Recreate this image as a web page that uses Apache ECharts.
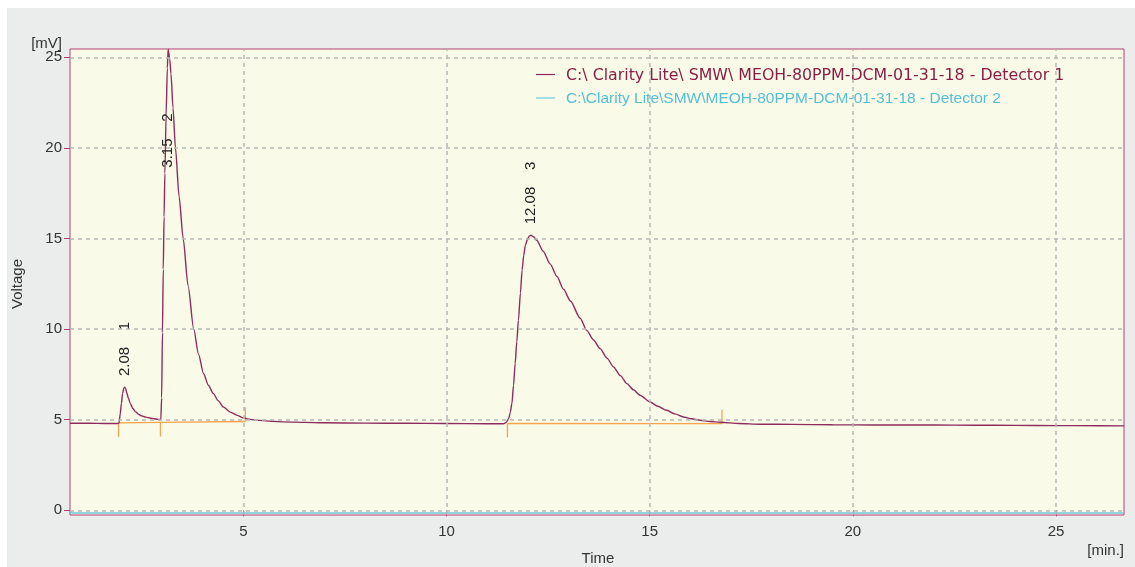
<!DOCTYPE html>
<html>
<head>
<meta charset="utf-8">
<script src="https://cdn.jsdelivr.net/npm/echarts@6/dist/echarts.min.js"></script>
<style>
  html, body { margin: 0; padding: 0; background: #ffffff; }
  #chart { width: 1135px; height: 567px; }
</style>
</head>
<body>
<div id="chart"></div>
<script>
// Detector 1 trace: [time (min), signal (mV)]
const det1Points = [
  [0.735, 4.80], [1.20, 4.80], [1.60, 4.79], [1.90, 4.79], [1.94, 4.80],
  [1.97, 5.30], [2.00, 5.90], [2.03, 6.45], [2.06, 6.75], [2.08, 6.80],
  [2.10, 6.75], [2.13, 6.50], [2.17, 6.20], [2.22, 5.90], [2.28, 5.62],
  [2.35, 5.43], [2.42, 5.30], [2.50, 5.21], [2.60, 5.14], [2.70, 5.09],
  [2.80, 5.05], [2.90, 5.02], [2.97, 5.00],
  [2.99, 6.20], [3.01, 9.80], [3.03, 13.30], [3.05, 16.20], [3.07, 18.60],
  [3.10, 21.80], [3.13, 24.40], [3.15, 25.45], [3.19, 24.90], [3.22, 24.10],
  [3.27, 22.20], [3.33, 20.00], [3.42, 17.30], [3.52, 15.00], [3.64, 12.40],
  [3.78, 10.00], [3.90, 8.60], [4.02, 7.55], [4.14, 6.90], [4.26, 6.45],
  [4.38, 6.05], [4.51, 5.70], [4.68, 5.42], [4.85, 5.24], [5.00, 5.10],
  [5.17, 5.02], [5.40, 4.96], [5.70, 4.91], [6.00, 4.88], [6.50, 4.85],
  [7.00, 4.83], [8.00, 4.81], [9.00, 4.80], [10.00, 4.79], [11.00, 4.78],
  [11.40, 4.78], [11.47, 4.85], [11.53, 5.06], [11.57, 5.40], [11.61, 5.89],
  [11.65, 6.90], [11.69, 8.10], [11.73, 9.30], [11.77, 10.49], [11.82, 12.00],
  [11.86, 13.25], [11.90, 14.05], [11.94, 14.62], [12.00, 15.00], [12.04, 15.14],
  [12.08, 15.18], [12.14, 15.10], [12.22, 14.90], [12.38, 14.30], [12.55, 13.60],
  [12.72, 12.90], [12.88, 12.20], [13.05, 11.55], [13.29, 10.60], [13.45, 9.93],
  [13.62, 9.40], [13.78, 8.92], [13.95, 8.40], [14.11, 7.91], [14.28, 7.43],
  [14.44, 6.99], [14.60, 6.65], [14.76, 6.35], [15.01, 5.98], [15.20, 5.74],
  [15.42, 5.52], [15.62, 5.32], [15.83, 5.15], [16.03, 5.05], [16.24, 4.97],
  [16.48, 4.90], [16.73, 4.86], [17.20, 4.79], [17.72, 4.75], [18.50, 4.74],
  [19.50, 4.72], [20.50, 4.71], [21.50, 4.71], [22.50, 4.70], [23.50, 4.69],
  [24.50, 4.68], [25.50, 4.67], [26.673, 4.66]
];

// Detector 2 trace (flat)
const det2Points = [[0.735, -0.15], [26.673, -0.15]];

// Integration baselines
const baselineA = [[1.93, 4.82], [2.96, 4.85], [5.05, 4.90]];
const baselineB = [[11.50, 4.79], [16.78, 4.78]];

// Peak start / end markers: time, signal, direction (-1 down, 1 up)
const markerTimes = [1.93, 2.96, 5.05, 11.50, 16.78];
const markerVolts = [4.82, 4.85, 4.90, 4.79, 4.78];
const markerDirs  = [-1, -1, 1, -1, 1];

// Peak table
const peakTimes   = [2.08, 3.15, 12.08];
const peakHeights = [6.80, 25.45, 15.18];
const peakNumbers = [1, 2, 3];

// Axis ticks
const timeTicks = [5, 10, 15, 20, 25];
const voltTicks = [0, 5, 10, 15, 20, 25];

const seriesNames = [
  'C:\\ Clarity Lite\\ SMW\\ MEOH-80PPM-DCM-01-31-18 - Detector 1',
  'C:\\Clarity Lite\\SMW\\MEOH-80PPM-DCM-01-31-18 - Detector 2'
];

const FRAME = '#b5406f';
const TRACE1 = '#8c2d5c';
const TRACE2 = '#6cc9da';
const ORANGE = '#f8a44c';
const GRIDC = '#b6b6b6';
const FONT = '"Liberation Sans", Arial, sans-serif';
// labels of peaks that run into the top of the plot are placed lower, across the peak
const LABEL_CEILING = 18.3;

const chart = echarts.init(document.getElementById('chart'), null, { renderer: 'canvas' });

const gridLines = voltTicks.map(v => ({ yAxis: v })).concat(timeTicks.map(t => ({ xAxis: t })));

chart.setOption({
  animation: false,
  backgroundColor: 'transparent',
  grid: {
    left: 70, top: 49, right: 11, bottom: 52,
    show: true, backgroundColor: '#fafae8', borderColor: FRAME, borderWidth: 1
  },
  xAxis: {
    type: 'value', min: 0.735, max: 26.673,
    axisLine: { show: false },
    splitLine: { show: false },
    axisTick: { show: true, length: 6, customValues: timeTicks, lineStyle: { color: FRAME } },
    axisLabel: { customValues: timeTicks, margin: 9, fontSize: 15, color: '#333', fontFamily: FONT }
  },
  yAxis: {
    type: 'value', min: -0.26, max: 25.458,
    axisLine: { show: false },
    splitLine: { show: false },
    axisTick: { show: true, length: 6, customValues: voltTicks, lineStyle: { color: FRAME } },
    axisLabel: { customValues: voltTicks, margin: 8, fontSize: 15, color: '#333', fontFamily: FONT }
  },
  graphic: [
    { type: 'rect', z: -10, shape: { x: 7, y: 8, width: 1128, height: 559 }, style: { fill: '#ebecec' } },
    { type: 'text', x: 62, y: 44, style: { text: '[mV]', font: '15px ' + FONT, fill: '#333', align: 'right', verticalAlign: 'middle' } },
    { type: 'text', x: 18, y: 284, rotation: Math.PI / 2, style: { text: 'Voltage', font: '15px ' + FONT, fill: '#333', align: 'center', verticalAlign: 'middle' } },
    { type: 'text', x: 598, y: 559, style: { text: 'Time', font: '15px ' + FONT, fill: '#333', align: 'center', verticalAlign: 'middle' } },
    { type: 'text', x: 1124, y: 551, style: { text: '[min.]', font: '15px ' + FONT, fill: '#333', align: 'right', verticalAlign: 'middle' } },
    { type: 'line', shape: { x1: 536, y1: 74.5, x2: 555, y2: 74.5 }, style: { stroke: TRACE1, lineWidth: 1.2 } },
    { type: 'text', x: 566, y: 76, style: { text: seriesNames[0], font: '15.8px "DejaVu Sans", sans-serif', fill: '#8a1f45', align: 'left', verticalAlign: 'middle' } },
    { type: 'line', shape: { x1: 536, y1: 98, x2: 555, y2: 98 }, style: { stroke: TRACE2, lineWidth: 1.2 } },
    { type: 'text', x: 566, y: 99, style: { text: seriesNames[1], font: '15.5px ' + FONT, fill: '#55bfd6', align: 'left', verticalAlign: 'middle' } }
  ],
  series: [
    {
      name: seriesNames[1], type: 'line', data: det2Points, showSymbol: false, z: 1,
      lineStyle: { color: TRACE2, width: 1.5 },
      markLine: {
        silent: true, symbol: ['none', 'none'], label: { show: false },
        lineStyle: { color: GRIDC, type: [4, 4], width: 1.5 },
        data: gridLines
      }
    },
    { type: 'line', data: baselineA, showSymbol: false, z: 2, lineStyle: { color: ORANGE, width: 1.3 } },
    { type: 'line', data: baselineB, showSymbol: false, z: 2, lineStyle: { color: ORANGE, width: 1.3 } },
    {
      type: 'custom', z: 2,
      data: markerTimes.map((t, i) => [t, markerVolts[i], markerDirs[i]]),
      renderItem: (params, api) => {
        const p = api.coord([api.value(0), api.value(1)]);
        const d = api.value(2);
        return { type: 'line', shape: { x1: p[0], y1: p[1], x2: p[0], y2: p[1] - d * 14 }, style: { stroke: ORANGE, lineWidth: 1.3 } };
      }
    },
    {
      name: seriesNames[0], type: 'line', data: det1Points, showSymbol: false, z: 3,
      smooth: 0.25, smoothMonotone: 'x',
      lineStyle: { color: TRACE1, width: 1.4 }
    },
    {
      type: 'custom', z: 4,
      data: peakTimes.map((t, i) => [t, peakHeights[i], peakNumbers[i]]),
      renderItem: (params, api) => {
        const t = api.value(0), h = api.value(1), n = api.value(2);
        const p = api.coord([t, Math.min(h, LABEL_CEILING)]);
        return {
          type: 'text', x: p[0], y: p[1] - 11, rotation: Math.PI / 2,
          style: { text: t.toFixed(2) + '    ' + n, font: '15px ' + FONT, fill: '#222', align: 'left', verticalAlign: 'middle' }
        };
      }
    }
  ]
});
</script>
</body>
</html>
